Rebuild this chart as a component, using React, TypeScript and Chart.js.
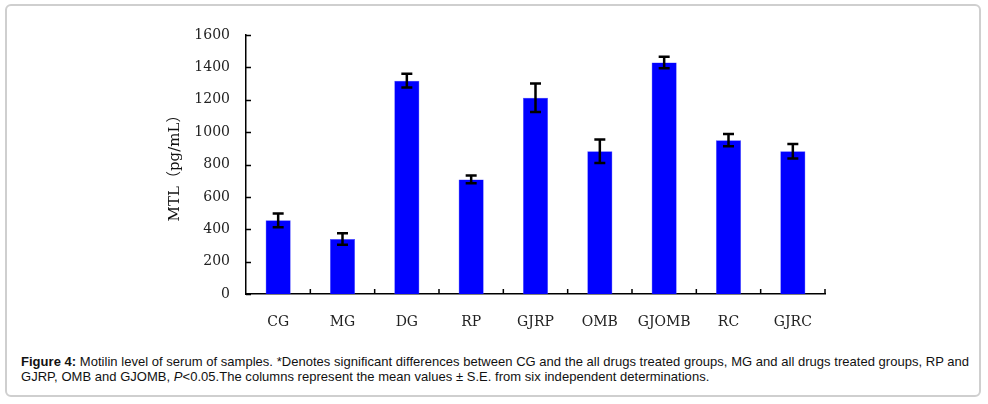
import React, { useEffect, useRef } from "react";
import { Chart, registerables } from "chart.js";

Chart.register(...registerables);

const categories = ["CG", "MG", "DG", "RP", "GJRP", "OMB", "GJOMB", "RC", "GJRC"];
const means = [455, 340, 1318, 708, 1212, 882, 1430, 950, 882];
const errors = [42, 36, 42, 24, 88, 72, 36, 38, 45];
const yTicks = [0, 200, 400, 600, 800, 1000, 1200, 1400, 1600];
const yTitle = "MTL（pg/mL）";

const tickFont = "'DejaVu Serif', 'Liberation Serif', serif";

const decorPlugin = {
  id: "decor",
  afterDatasetsDraw(chart: any) {
    const { ctx, scales, chartArea } = chart;
    const x = scales.x;
    const y = scales.y;
    ctx.save();
    // error bars
    const meta = chart.getDatasetMeta(0);
    ctx.strokeStyle = "#000";
    ctx.lineWidth = 2.5;
    meta.data.forEach((bar: any, i: number) => {
      const cx = bar.x;
      const top = y.getPixelForValue(means[i] + errors[i]);
      const bot = y.getPixelForValue(means[i] - errors[i]);
      ctx.beginPath();
      ctx.moveTo(cx, top);
      ctx.lineTo(cx, bot);
      ctx.moveTo(cx - 5.5, top);
      ctx.lineTo(cx + 5.5, top);
      ctx.moveTo(cx - 5.5, bot);
      ctx.lineTo(cx + 5.5, bot);
      ctx.stroke();
    });
    // axis tick marks (inward)
    ctx.lineWidth = 1.5;
    ctx.beginPath();
    yTicks.forEach((v) => {
      const py = Math.round(y.getPixelForValue(v)) + 0.5;
      ctx.moveTo(chartArea.left, py);
      ctx.lineTo(chartArea.left + 5, py);
    });
    for (let i = 0; i < categories.length; i++) {
      const px =
        i < categories.length - 1
          ? (x.getPixelForValue(i) + x.getPixelForValue(i + 1)) / 2
          : chartArea.right;
      ctx.moveTo(px, chartArea.bottom);
      ctx.lineTo(px, chartArea.bottom - 5);
    }
    ctx.stroke();
    ctx.restore();
  },
};

export default function App() {
  const ref = useRef<HTMLCanvasElement | null>(null);

  useEffect(() => {
    if (!ref.current) return;
    const chart = new Chart(ref.current, {
      type: "bar",
      data: {
        labels: categories,
        datasets: [
          {
            data: means,
            backgroundColor: "#0000FF",
            borderColor: "#4d4dff",
            borderWidth: 0.5,
            barPercentage: 0.39,
            categoryPercentage: 1,
          },
        ],
      },
      options: {
        animation: false,
        responsive: false,
        devicePixelRatio: 1,
        layout: { padding: { left: 163, right: 163, top: 35, bottom: 6 } },
        plugins: { legend: { display: false }, tooltip: { enabled: false } },
        scales: {
          x: {
            type: "category",
            offset: true,
            grid: { display: false, drawTicks: false },
            border: { display: true, color: "#000", width: 1.5 },
            ticks: {
              color: "#222",
              font: { family: tickFont, size: 14 },
              padding: 20,
              maxRotation: 0,
              autoSkip: false,
            },
            afterFit: (s: any) => {
              s.height = 40;
            },
          },
          y: {
            min: 0,
            max: 1600,
            grid: { display: false, drawTicks: false },
            border: { display: true, color: "#000", width: 1.5 },
            afterBuildTicks: (s: any) => {
              s.ticks = yTicks.map((v) => ({ value: v }));
            },
            ticks: {
              color: "#222",
              font: { family: tickFont, size: 14 },
              padding: 16,
              callback: (v: any) => String(v),
            },
            title: {
              display: true,
              text: yTitle,
              color: "#111",
              font: { family: tickFont + ", 'Noto Sans CJK SC'", size: 15 },
              padding: { top: 3, bottom: 0 },
            },
            afterFit: (s: any) => {
              s.width = 83;
            },
          },
        },
      },
      plugins: [decorPlugin],
    });
    return () => chart.destroy();
  }, []);

  return (
    <div style={{ position: "absolute", left: 0, top: 0, width: 988, height: 404, background: "#fff" }}>
      <div
        style={{
          position: "absolute",
          left: 5,
          top: 4,
          width: 972,
          height: 389,
          border: "2px solid #cfcfcf",
          borderRadius: 6,
        }}
      />
      <canvas ref={ref} width={988} height={340} style={{ position: "absolute", left: 0, top: 0 }} />
      <div
        style={{
          position: "absolute",
          left: 21,
          top: 354,
          fontFamily: "'Liberation Sans', Arial, sans-serif",
          fontSize: 13,
          lineHeight: "15px",
          letterSpacing: "0.03px",
          color: "#111",
          whiteSpace: "nowrap",
        }}
      >
        <b>Figure 4:</b> Motilin level of serum of samples. *Denotes significant differences between CG and the all drugs
        treated groups, MG and all drugs treated groups, RP and
        <br />
        GJRP, OMB and GJOMB, <i>P</i>&lt;0.05.The columns represent the mean values ± S.E. from six independent
        determinations.
      </div>
    </div>
  );
}
